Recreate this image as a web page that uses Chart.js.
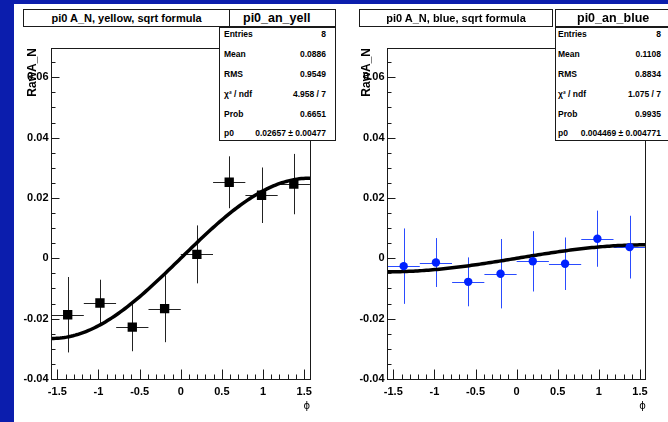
<!DOCTYPE html>
<html>
<head>
<meta charset="utf-8">
<title>pi0 A_N vs phi</title>
<script src="https://cdn.jsdelivr.net/npm/chart.js@4.4.1/dist/chart.umd.min.js"></script>
<style>
  html, body { margin: 0; padding: 0; }
  body { width: 668px; height: 422px; position: relative; overflow: hidden; background: #fff;
         font-family: "Liberation Sans", Arial, Helvetica, sans-serif; }
  .edge { position: absolute; background: #0b1dad; }
  canvas { position: absolute; top: 0; }
  .pave { position: absolute; box-sizing: border-box; border: 1px solid #1a1a1a; background: #fff; overflow: hidden; color: #000; }
  .pave-title { font-weight: bold; font-size: 11px; line-height: 16px; text-align: center; }
  .pave-name { font-weight: bold; font-size: 12.5px; line-height: 16px; white-space: nowrap; }
  .stat-row { position: absolute; left: 0; right: 0; height: 12px; line-height: 12px; font-size: 8.5px; font-weight: bold; white-space: nowrap; }
  .stat-row span { position: absolute; }
</style>
</head>
<body>
<div class="edge" style="left:0;top:0;width:14px;height:422px"></div>
<div class="edge" style="left:0;top:0;width:668px;height:4px"></div>
<canvas id="yellow" width="340" height="422" style="left:0;width:340px;height:422px"></canvas>
<canvas id="blue" width="328" height="422" style="left:340px;width:328px;height:422px"></canvas>

<script>
// phi bin centres (8 bins over -pi/2..pi/2) and half bin width
const phiBins = [-1.374, -0.982, -0.589, -0.196, 0.196, 0.589, 0.982, 1.374];
const binHalfWidth = 0.196;

// raw A_N per phi bin, yellow beam
const yellowAN  = [-0.0187, -0.0148, -0.0228, -0.0167, 0.0013, 0.0252, 0.0209, 0.0246];
const yellowErr = [ 0.0125,  0.0077,  0.0080,  0.0111, 0.0096, 0.0086, 0.0092, 0.0100];

// raw A_N per phi bin, blue beam
const blueAN  = [-0.0026, -0.0014, -0.0078, -0.0051, -0.0010, -0.0018, 0.0065, 0.0037];
const blueErr = [ 0.0125,  0.0081,  0.0081,  0.0115,  0.0100,  0.0087, 0.0093, 0.0104];

// axis tick labels
const xTickValues = [-1.5, -1, -0.5, 0, 0.5, 1, 1.5];
const xTickLabels = ['-1.5', '-1', '-0.5', '0', '0.5', '1', '1.5'];
const yTickValues = [-0.04, -0.02, 0, 0.02, 0.04, 0.06];
const yTickLabels = ['-0.04', '-0.02', '0', '0.02', '0.04', '0.06'];

// fit results: A_N(phi) = p0 * sin(phi)
const yellowP0 = 0.02657;
const blueP0 = 0.004469;

// statistics box contents
const statLabels  = ['Entries', 'Mean', 'RMS', 'χ² / ndf', 'Prob', 'p0'];
const yellowStats = ['8', '0.0886', '0.9549', '4.958 / 7', '0.6651', '0.02657 ± 0.00477'];
const blueStats   = ['8', '0.1108', '0.8834', '1.075 / 7', '0.9935', '0.004469 ± 0.004771'];

const PHI_MIN = -Math.PI / 2, PHI_MAX = Math.PI / 2;
const Y_MIN = -0.04, Y_MAX = 0.0697;

// fit function evaluated across the full phi range
function fitCurve(p0) {
  const n = 120, pts = [];
  for (let i = 0; i <= n; i++) {
    const phi = PHI_MIN + (PHI_MAX - PHI_MIN) * i / n;
    pts.push({ x: phi, y: p0 * Math.sin(phi) });
  }
  return pts;
}

// error bars, frame and minor/major ticks drawn in ROOT style
function rootStylePlugin(values, errors, errColor) {
  return {
    id: 'rootStyle',
    beforeDatasetsDraw(chart) {
      const { ctx, chartArea: a, scales: { x, y } } = chart;
      ctx.save();
      ctx.beginPath();
      ctx.rect(a.left, a.top, a.right - a.left, a.bottom - a.top);
      ctx.clip();
      ctx.strokeStyle = errColor;
      ctx.lineWidth = 1;
      values.forEach((v, i) => {
        const px = Math.round(x.getPixelForValue(phiBins[i])) + 0.5;
        const py = Math.round(y.getPixelForValue(v)) + 0.5;
        ctx.beginPath();
        ctx.moveTo(px, y.getPixelForValue(v + errors[i]));
        ctx.lineTo(px, y.getPixelForValue(v - errors[i]));
        ctx.moveTo(x.getPixelForValue(phiBins[i] - binHalfWidth), py);
        ctx.lineTo(x.getPixelForValue(phiBins[i] + binHalfWidth), py);
        ctx.stroke();
      });
      ctx.restore();
    },
    afterDraw(chart) {
      const { ctx, chartArea: a, scales: { x, y } } = chart;
      const L = Math.floor(a.left) + 0.5, R = Math.floor(a.right) + 0.5;
      const T = Math.floor(a.top) + 0.5, B = Math.floor(a.bottom) + 0.5;
      ctx.save();
      ctx.strokeStyle = '#1a1a1a';
      ctx.lineWidth = 1;
      ctx.strokeRect(L, T, R - L, B - T);
      ctx.beginPath();
      for (let k = -15; k <= 15; k++) {
        const px = Math.round(x.getPixelForValue(k / 10)) + 0.5;
        ctx.moveTo(px, B);
        ctx.lineTo(px, B - (k % 5 === 0 ? 10 : 5));
      }
      for (let k = -8; k <= 13; k++) {
        const py = Math.round(y.getPixelForValue(k * 0.005)) + 0.5;
        ctx.moveTo(L, py);
        ctx.lineTo(L + (k % 4 === 0 ? 8 : 4), py);
      }
      ctx.stroke();
      ctx.restore();
    }
  };
}

const tickFont = { family: '"Liberation Sans", Arial, sans-serif', size: 11, weight: 'bold' };

function makeChart(id, opts) {
  return new Chart(document.getElementById(id), {
    type: 'scatter',
    data: {
      datasets: [
        {
          data: phiBins.map((phi, i) => ({ x: phi, y: opts.values[i] })),
          pointStyle: opts.pointStyle,
          pointRadius: opts.pointRadius,
          backgroundColor: opts.markerColor,
          borderColor: opts.markerColor,
          borderWidth: 0,
          order: 0
        },
        {
          data: fitCurve(opts.p0),
          showLine: true,
          pointRadius: 0,
          borderColor: '#000',
          borderWidth: 3.5,
          tension: 0,
          order: 1
        }
      ]
    },
    options: {
      responsive: false,
      animation: false,
      devicePixelRatio: 1,
      layout: { padding: { left: 0, top: 48, right: opts.padRight, bottom: 0 } },
      plugins: { legend: { display: false }, tooltip: { enabled: false } },
      scales: {
        x: {
          type: 'linear', min: PHI_MIN, max: PHI_MAX,
          afterBuildTicks: s => { s.ticks = xTickValues.map(v => ({ value: v })); },
          afterFit: s => { s.height = 43; },
          grid: { display: false, drawTicks: false },
          border: { display: false },
          ticks: { font: tickFont, color: '#000', padding: 6, maxRotation: 0, autoSkip: false,
                   callback: (v, i) => xTickLabels[i] },
          title: { display: true, text: 'ϕ', align: 'end', color: '#000',
                   font: { family: '"DejaVu Sans", sans-serif', size: 10 }, padding: { top: 0, bottom: 9.5 } }
        },
        y: {
          type: 'linear', min: Y_MIN, max: Y_MAX,
          afterBuildTicks: s => { s.ticks = yTickValues.map(v => ({ value: v })); },
          afterFit: s => { s.width = opts.yWidth; },
          grid: { display: false, drawTicks: false },
          border: { display: false },
          ticks: { font: tickFont, color: '#000', padding: 3, autoSkip: false,
                   callback: (v, i) => yTickLabels[i] },
          title: { display: true, text: 'RawA_N', align: 'end', color: '#000',
                   font: { family: '"Liberation Sans", Arial, sans-serif', size: 12, weight: 'bold' },
                   padding: { top: opts.yTitlePad, bottom: 0 } }
        }
      }
    },
    plugins: [rootStylePlugin(opts.values, opts.errors, opts.errColor)]
  });
}

makeChart('yellow', {
  values: yellowAN, errors: yellowErr, p0: yellowP0,
  pointStyle: 'rect', pointRadius: 6.6, markerColor: '#000', errColor: '#222',
  yWidth: 51.5, padRight: 30, yTitlePad: 25.8
});

makeChart('blue', {
  values: blueAN, errors: blueErr, p0: blueP0,
  pointStyle: 'circle', pointRadius: 4.2, markerColor: '#0022ff', errColor: '#2a4bff',
  yWidth: 47.5, padRight: 22.2, yTitlePad: 19.8
});

// title and statistics panes
function pave(cls, l, t, w, h) {
  const d = document.createElement('div');
  d.className = 'pave ' + cls;
  Object.assign(d.style, { left: l + 'px', top: t + 'px', width: w + 'px', height: h + 'px' });
  document.body.appendChild(d);
  return d;
}

function buildPanes(p) {
  const title = pave('pave-title', p.title[0], 9, p.title[1], 18);
  title.textContent = p.titleText;
  const name = pave('pave-name', p.name[0], 9, p.name[1], 18);
  name.style.paddingLeft = p.nameIndent + 'px';
  name.textContent = p.nameText;
  const stats = pave('', p.stats[0], 27, p.stats[1], 114);
  statLabels.forEach((lab, i) => {
    const row = document.createElement('div');
    row.className = 'stat-row';
    row.style.top = (0.3 + 19.8 * i) + 'px';
    const a = document.createElement('span');
    a.style.left = p.labLeft + 'px';
    a.textContent = lab;
    const b = document.createElement('span');
    b.style.right = p.valRight + 'px';
    b.textContent = p.values[i];
    row.appendChild(a); row.appendChild(b);
    stats.appendChild(row);
  });
}

buildPanes({ title: [23, 207], titleText: 'pi0 A_N, yellow, sqrt formula',
             name: [229, 107], nameIndent: 13, nameText: 'pi0_an_yell',
             stats: [219, 117], labLeft: 4, valRight: 9, values: yellowStats });
buildPanes({ title: [359, 194], titleText: 'pi0 A_N, blue, sqrt formula',
             name: [555, 120], nameIndent: 21, nameText: 'pi0_an_blue',
             stats: [555, 120], labLeft: 2, valRight: 13, values: blueStats });
</script>
</body>
</html>
